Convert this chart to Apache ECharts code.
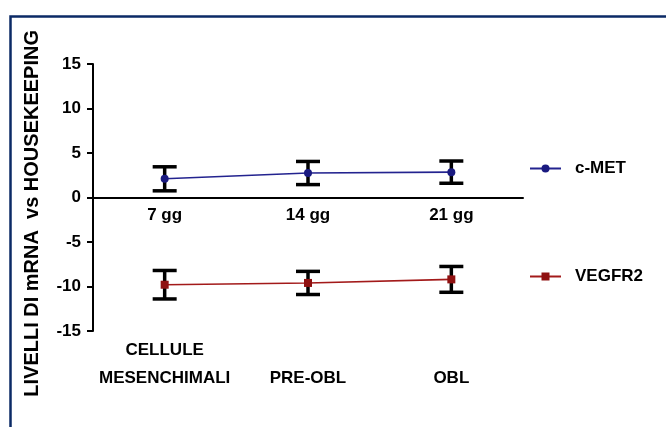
<!DOCTYPE html>
<html>
<head>
<meta charset="utf-8">
<script src="https://cdn.jsdelivr.net/npm/echarts@6/dist/echarts.min.js"></script>
<style>
  html, body { margin: 0; padding: 0; background: #fff; }
  #chart { width: 666px; height: 427px; }
</style>
</head>
<body>
<div id="chart"></div>
<script>
// Time points and differentiation stages
const dayLabels = ['7 gg', '14 gg', '21 gg'];
const stageLabels = ['CELLULE\nMESENCHIMALI', 'PRE-OBL', 'OBL'];

// mRNA levels relative to housekeeping gene (mean and SEM)
const cMetMean = [2.1, 2.75, 2.85];
const cMetErr = [1.35, 1.3, 1.25];
const vegfr2Mean = [-9.8, -9.6, -9.2];
const vegfr2Err = [1.6, 1.3, 1.45];

// Y axis range and tick step
const yMin = -15, yMax = 15, yStep = 5;

const FONT = 'Liberation Sans, Arial, sans-serif';
const W = 666, H = 427;
const plotArea = { left: 93, right: 143, top: 64, bottom: 96 };

// The day axis sits on the zero line: lift it from the grid bottom by the
// pixel distance between yMin and 0.
const plotHeight = H - plotArea.top - plotArea.bottom;
const zeroOffset = plotHeight * (0 - yMin) / (yMax - yMin);

function errorData(mean, err) {
  return mean.map((m, i) => [i, m - err[i], m + err[i]]);
}

function renderErrorBar(params, api) {
  const x = api.value(0);
  const lo = api.coord([x, api.value(1)]);
  const hi = api.coord([x, api.value(2)]);
  const half = 12;
  const style = { stroke: '#000', lineWidth: 3.5 };
  return {
    type: 'group',
    children: [
      { type: 'line', shape: { x1: lo[0], y1: lo[1], x2: hi[0], y2: hi[1] }, style },
      { type: 'line', shape: { x1: hi[0] - half, y1: hi[1], x2: hi[0] + half, y2: hi[1] }, style },
      { type: 'line', shape: { x1: lo[0] - half, y1: lo[1], x2: lo[0] + half, y2: lo[1] }, style }
    ]
  };
}

const labelFont = { color: '#000', fontFamily: FONT, fontWeight: 'bold', fontSize: 17 };
const legendText = { fontFamily: FONT, fontWeight: 'bold', fontSize: 17, color: '#000', padding: [0, 0, 0, 9] };

const chart = echarts.init(document.getElementById('chart'), null, { renderer: 'canvas' });

chart.setOption({
  animation: false,
  backgroundColor: '#fff',
  textStyle: { fontFamily: FONT },
  grid: [
    Object.assign({}, plotArea),
    Object.assign({}, plotArea)
  ],
  legend: [
    { data: ['c-MET'], left: 524, top: 155, itemWidth: 31, itemHeight: 10, textStyle: legendText },
    { data: ['VEGFR2'], left: 524, top: 263, itemWidth: 31, itemHeight: 10, textStyle: legendText }
  ],
  xAxis: [
    {
      type: 'category',
      gridIndex: 0,
      data: dayLabels,
      position: 'bottom',
      offset: -zeroOffset,
      axisLine: { onZero: false, lineStyle: { color: '#000', width: 2 } },
      axisTick: { show: false },
      axisLabel: Object.assign({ margin: 9, interval: 0 }, labelFont),
      splitLine: { show: false }
    },
    {
      type: 'category',
      gridIndex: 1,
      data: stageLabels,
      axisLine: { show: false, onZero: false },
      axisTick: { show: false },
      axisLabel: Object.assign({ interval: 0, verticalAlign: 'bottom', margin: 61, lineHeight: 28 }, labelFont),
      splitLine: { show: false }
    }
  ],
  yAxis: [
    {
      type: 'value',
      gridIndex: 0,
      min: yMin, max: yMax, interval: yStep,
      axisLine: { show: true, lineStyle: { color: '#000', width: 2 } },
      axisTick: { show: true, length: 6, lineStyle: { color: '#000', width: 2 } },
      axisLabel: Object.assign({ margin: 12 }, labelFont),
      splitLine: { show: false }
    },
    {
      type: 'value',
      gridIndex: 1,
      min: yMin, max: yMax, interval: yStep,
      show: false
    }
  ],
  graphic: [
    {
      type: 'rect', left: 8, top: 14, z: 100, silent: true,
      shape: { width: 720, height: 480 },
      style: { fill: 'none', stroke: '#0b2a66', lineWidth: 2.5 }
    },
    {
      type: 'text', rotation: Math.PI / 2, left: 22, top: 30, z: 100,
      style: {
        text: 'LIVELLI DI mRNA  vs HOUSEKEEPING',
        font: 'bold 20px ' + FONT, fill: '#000'
      }
    }
  ],
  series: [
    {
      name: 'err-cmet', type: 'custom', renderItem: renderErrorBar,
      data: errorData(cMetMean, cMetErr), z: 2, silent: true
    },
    {
      name: 'err-vegfr2', type: 'custom', renderItem: renderErrorBar,
      data: errorData(vegfr2Mean, vegfr2Err), z: 2, silent: true
    },
    {
      name: 'c-MET', type: 'line', data: cMetMean, z: 3,
      symbol: 'circle', symbolSize: 8,
      lineStyle: { color: '#23238f', width: 1.6 },
      itemStyle: { color: '#1a1a80' }
    },
    {
      name: 'VEGFR2', type: 'line', data: vegfr2Mean, z: 3,
      symbol: 'rect', symbolSize: 8,
      lineStyle: { color: '#a31a1a', width: 1.6 },
      itemStyle: { color: '#8f1010' }
    }
  ]
});
</script>
</body>
</html>
